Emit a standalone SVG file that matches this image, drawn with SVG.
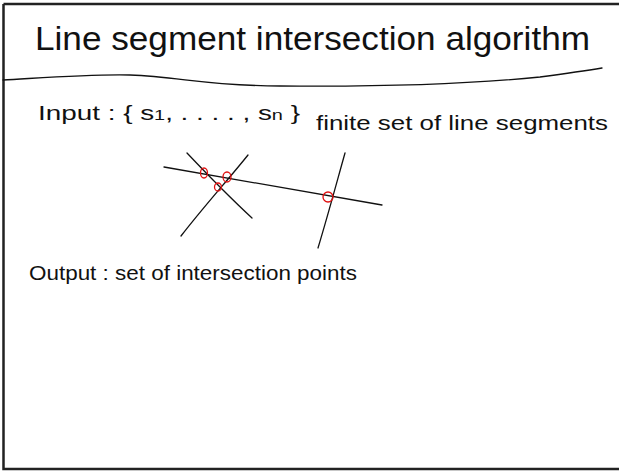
<svg xmlns="http://www.w3.org/2000/svg" width="619" height="471" viewBox="0 0 619 471">
<style>
.t{font-family:"Liberation Sans",Arial,sans-serif;fill:#111;}
.ln{fill:none;stroke:#111;stroke-width:1.3;stroke-linecap:round;}
.mk{fill:none;stroke:#e01010;stroke-width:1.3;}
</style>
<rect x="0" y="0" width="619" height="471" fill="#fff"/>
<path d="M3.5,4 H619 M3.5,4 V469 H619" fill="none" stroke="#222" stroke-width="2.5"/>
<text class="t" x="35" y="50" font-size="34" textLength="555" lengthAdjust="spacingAndGlyphs">Line segment intersection algorithm</text>
<path class="ln" d="M3,80 C40,78 90,74 130,75 C180,77 210,86 280,86 C380,87 470,84 540,77 C570,73 590,70 602,68"/>
<g id="input">
<text class="t" x="38" y="120" font-size="21" textLength="262" lengthAdjust="spacingAndGlyphs">Input :  { s<tspan font-size="15">1</tspan>, . . . . , s<tspan font-size="15">n</tspan> }</text>
<text class="t" x="316" y="130" font-size="21" textLength="292" lengthAdjust="spacingAndGlyphs">finite set of line segments</text>
</g>
<g id="connectors">
<path class="ln" d="M164,167 L382,205"/>
<path class="ln" d="M187,153 C205,172 225,193 252,218"/>
<path class="ln" d="M248,155 C228,180 205,205 181,236"/>
<path class="ln" d="M345,153 C336,185 328,215 318,248"/>
</g>
<g id="marks">
<ellipse class="mk" cx="204" cy="173" rx="3.5" ry="5"/>
<ellipse class="mk" cx="227" cy="177" rx="4" ry="5"/>
<ellipse class="mk" cx="218" cy="187" rx="3.5" ry="4"/>
<ellipse class="mk" cx="328" cy="197" rx="5" ry="5"/>
</g>
<g id="output">
<text class="t" x="29" y="280" font-size="21" textLength="328" lengthAdjust="spacingAndGlyphs">Output : set of intersection points</text>
</g>
</svg>
